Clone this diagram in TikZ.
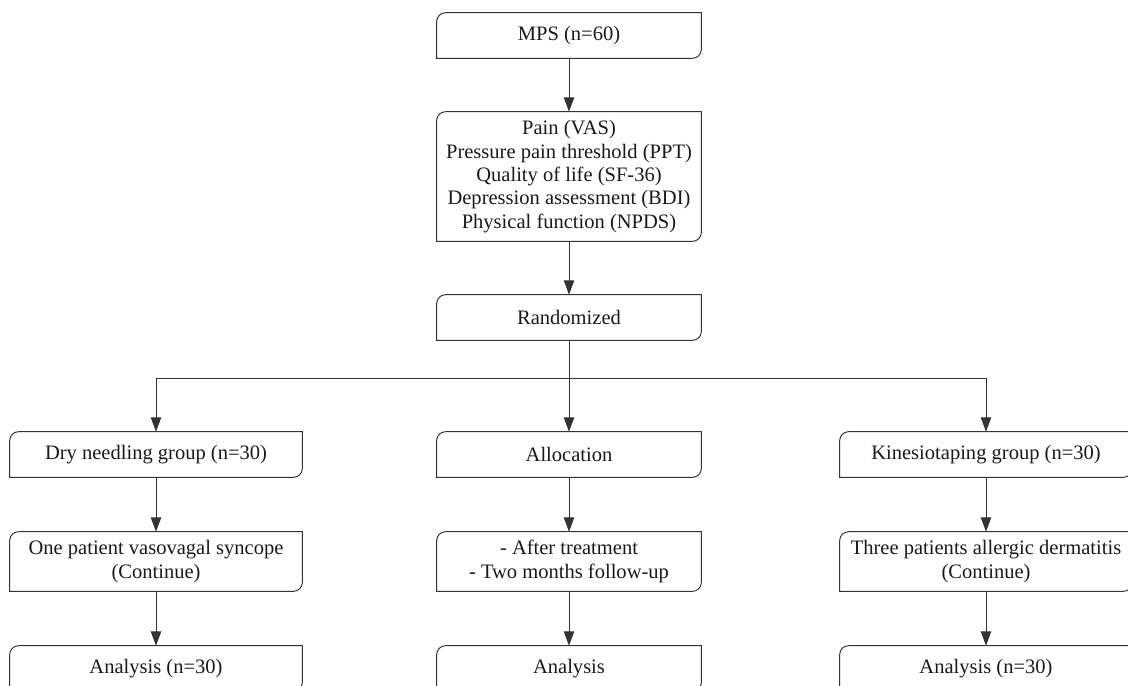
\documentclass[tikz,border=0pt]{standalone}
\usepackage{fontspec}
\setmainfont{Liberation Serif}
\usetikzlibrary{arrows.meta}

\tikzset{
  box/.style={minimum width=6.6cm, minimum height=1.125cm, align=center,
    inner sep=2pt, text=black!90, font=\fontsize{14.6}{16.6}\selectfont},
  frame/.style={draw=black!80, line width=0.7pt},
  arr/.style={-{Triangle[length=0.36cm,width=0.26cm]}, draw=black!80,
    line width=0.7pt}
}

\begin{document}
\begin{tikzpicture}[x=0.025cm, y=-0.025cm]
        \useasboundingbox (0,0) rectangle (1128,685);
        \clip (0,0) rectangle (1128,685);
        % centre column
        \node[box] (mps) at (569,35.5) {MPS (n=60)};
        \node[box, minimum height=3.225cm] (meas) at (569,176.5)
        {Pain (VAS)\\ Pressure pain threshold (PPT)\\ Quality of life (SF-36)\\
        Depression assessment (BDI)\\ Physical function (NPDS)};
        \node[box] (rand) at (569,317.5) {Randomized};
        % groups
        \node[box, minimum width=7.3cm] (dry) at (156,454.5) {Dry needling group (n=30)};
        \node[box] (alloc) at (569,454.5) {Allocation};
        \node[box, minimum width=7.3cm] (kin) at (986,454.5) {Kinesiotaping group (n=30)};
        \node[box, minimum width=7.3cm, minimum height=1.475cm] (dryev) at (156,561.5)
        {One patient vasovagal syncope\\ (Continue)};
        \node[box, minimum height=1.475cm] (follow) at (569,561.5)
        {- After treatment\\ - Two months follow-up};
        \node[box, minimum width=7.3cm, minimum height=1.475cm] (kinev) at (986,561.5)
        {Three patients allergic dermatitis\\ (Continue)};
        \node[box, minimum width=7.3cm] (dryan) at (156,668.5) {Analysis (n=30)};
        \node[box] (allocan) at (569,668.5) {Analysis};
        \node[box, minimum width=7.3cm] (kinan) at (986,668.5) {Analysis (n=30)};
        % frames: top left and bottom right corners rounded
        \foreach \n in {mps,meas,rand,dry,alloc,kin,dryev,follow,kinev,dryan,allocan,kinan}
        \draw[frame] (\n.north east) -- ([xshift=0.22cm]\n.north west)
        arc[start angle=90,end angle=180,radius=0.22cm] -- (\n.south west)
        -- ([xshift=-0.22cm]\n.south east)
        arc[start angle=270,end angle=360,radius=0.22cm] -- cycle;
        % connectors
        \coordinate (split) at (569,378);
        \draw[arr] (mps) -- (meas);
        \draw[arr] (meas) -- (rand);
        \draw[arr] (rand) -- (alloc);
        \draw[frame] (dry.north |- split) -- (kin.north |- split);
        \draw[arr] (dry.north |- split) -- (dry);
        \draw[arr] (kin.north |- split) -- (kin);
        \foreach \a/\b in {dry/dryev,dryev/dryan,alloc/follow,follow/allocan,kin/kinev,kinev/kinan}
        \draw[arr] (\a) -- (\b);
    \end{tikzpicture}
\end{document}
